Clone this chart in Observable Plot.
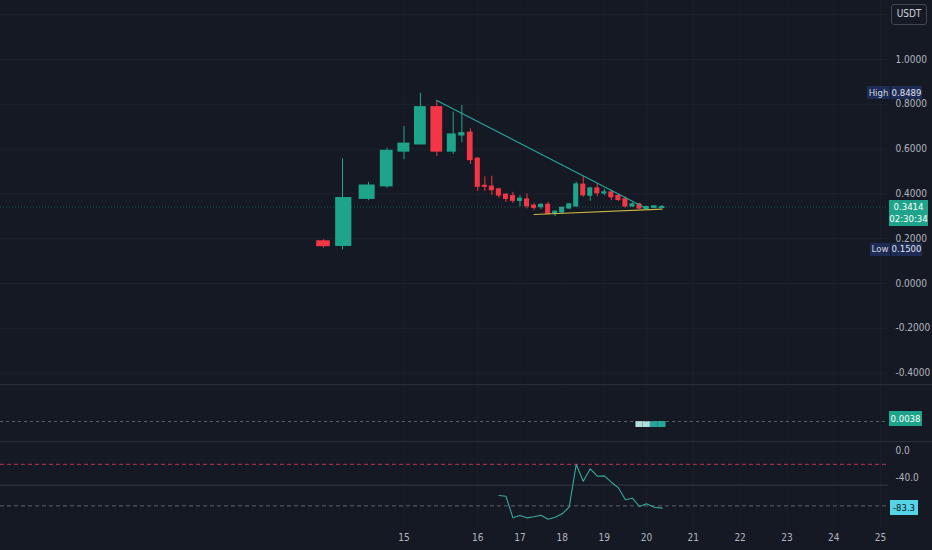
<!DOCTYPE html>
<html><head><meta charset="utf-8">
<script src="https://cdn.jsdelivr.net/npm/d3@7"></script>
<script src="https://cdn.jsdelivr.net/npm/@observablehq/plot@0.6"></script>
<style>
html,body{margin:0;padding:0;background:#151924;}
#chart{position:relative;width:932px;height:550px;background:#151924;overflow:hidden;font-family:"Liberation Sans Narrow","DejaVu Sans Condensed",Roboto,sans-serif;}
.pane{position:absolute;left:0;width:932px;}
.pane svg{display:block;}
.sep{position:absolute;left:0;width:932px;height:1px;background:#2a2e39;}
.tag{position:absolute;font-size:9.5px;white-space:nowrap;box-sizing:border-box;display:flex;align-items:center;justify-content:center;flex-direction:column;line-height:12px;}
</style></head><body><div id="chart"></div><script>
// ---- data (4h candles, day-of-month + time) ----
const barTimes = [
 "14 08:00","14 12:00","14 16:00","14 20:00",
 "15 00:00","15 04:00","15 08:00","15 12:00","15 16:00","15 20:00",
 "16 00:00","16 04:00","16 08:00","16 12:00","16 16:00","16 20:00",
 "17 00:00","17 04:00","17 08:00","17 12:00","17 16:00","17 20:00",
 "18 00:00","18 04:00","18 08:00","18 12:00","18 16:00","18 20:00",
 "19 00:00","19 04:00","19 08:00","19 12:00","19 16:00","19 20:00",
 "20 00:00","20 04:00","20 08:00"];
const open = [0.188,0.168,0.378,0.434,0.589,0.621,0.787,0.589,0.661,0.673,
 0.557,0.436,0.432,0.420,0.396,0.390,0.369,0.375,0.347,0.341,
 0.351,0.311,0.317,0.335,0.344,0.441,0.392,0.424,0.402,0.406,
 0.391,0.376,0.344,0.353,0.332,0.338,0.337];
const high = [0.195,0.557,0.452,0.604,0.701,0.8489,0.817,0.765,0.795,0.690,
 0.562,0.476,0.479,0.425,0.401,0.407,0.392,0.401,0.357,0.355,
 0.362,0.325,0.340,0.357,0.452,0.478,0.430,0.446,0.421,0.417,
 0.398,0.386,0.360,0.358,0.345,0.347,0.348];
const low = [0.158,0.150,0.370,0.425,0.553,0.619,0.568,0.576,0.628,0.531,
 0.411,0.411,0.393,0.381,0.362,0.357,0.342,0.333,0.326,0.330,
 0.306,0.299,0.312,0.330,0.340,0.385,0.367,0.388,0.391,0.370,
 0.366,0.337,0.340,0.330,0.328,0.335,0.336];
const close = [0.167,0.381,0.437,0.592,0.624,0.787,0.589,0.665,0.671,0.551,
 0.432,0.432,0.417,0.393,0.378,0.369,0.378,0.345,0.338,0.351,
 0.311,0.320,0.338,0.353,0.442,0.394,0.424,0.403,0.407,0.385,
 0.373,0.344,0.353,0.335,0.341,0.344,0.3414];
// Williams %R style oscillator (lower pane)
const wpr = [null,null,null,null,null,null,null,null,null,null,null,null,null,
 -65.0,-66.0,-97.3,-93.9,-97.3,-95.8,-93.5,-99.3,-96.4,-91.5,-81.9,
 -20.2,-44.4,-26.4,-37.1,-36.6,-45.8,-53.9,-71.2,-68.9,-80.9,-77.0,-81.9,-83.3];
// small histogram (middle pane)
const hist = [null,null,null,null,null,null,null,null,null,null,null,null,null,
 null,null,null,null,null,null,null,null,null,null,null,null,null,null,null,
 null,null,null,null,null,0.0037,0.0036,0.0037,0.0038];
// drawings
const trendTimes = ["15 08:00","20 00:00"], trendPrices = [0.817,0.335];
const supportTimes = ["17 08:00","20 08:00"], supportPrices = [0.308,0.332];
// ticks / labels
const dayTicks = [15,16,17,18,19,20,21,22,23,24,25];
const gridPrices = [1.2,1.0,0.8,0.6,0.4,0.2,0.0,-0.2,-0.4];
const axisPrices = [1.0,0.8,0.6,0.4,0.2,0.0,-0.2,-0.4];
const wprTicks = [0,-40];
const wprLevels = {upper:-20, mid:-50, lower:-80};
const highValue = 0.8489, lowValue = 0.15, lastPrice = 0.3414, countdown = "02:30:34";
const quote = "USDT";

// ---- build ----
const parseT = s => { const [d, hm] = s.split(" "); const [h, m] = hm.split(":").map(Number); return +d + (h + m/60)/24; };
const bars = barTimes.map((s,i)=>({t:parseT(s), o:open[i], h:high[i], l:low[i], c:close[i], up:close[i]>=open[i], w:wpr[i], v:hist[i], pv: i>0 ? hist[i-1] : null}));
const trend = trendTimes.map((s,i)=>({t:parseT(s), p:trendPrices[i]}));
const support = supportTimes.map((s,i)=>({t:parseT(s), p:supportPrices[i]}));

const UP="#1ea48a", DOWN="#f23645", TEXT="#b2b5be", GRID="#1e222d", VGRID="#1a1e29";
const FONT = '"Liberation Sans Narrow","DejaVu Sans Condensed",Roboto,sans-serif';
const xScale = {type:"linear", domain:[14+8/24,14.5,14+16/24,14+20/24,15,15.5,15+20/24,16,20,25], range:[323,342,368,386.5,403.5,452.7,470,477.3,646,880], axis:null};
const half = 0.36/6, full = 0.5/6;
const style = {background:"transparent", color:TEXT, fontFamily:FONT, fontSize:"10px", overflow:"visible"};

const chart = document.getElementById("chart");
function addPane(node, top){ const d=document.createElement("div"); d.className="pane"; d.style.top=top+"px"; d.appendChild(node); chart.appendChild(d); }
function addSep(top){ const d=document.createElement("div"); d.className="sep"; d.style.top=top+"px"; chart.appendChild(d); }
function tag(text, left, centerY, w, h, bg, color, extra){
  const d=document.createElement("div"); d.className="tag";
  d.style.left=left+"px"; d.style.top=(centerY-h/2)+"px"; d.style.width=w+"px"; d.style.height=h+"px";
  d.style.background=bg; d.style.color=color;
  if (Array.isArray(text)) text.forEach(t=>{const s=document.createElement("span"); s.textContent=t; d.appendChild(s);});
  else d.textContent=text;
  if (extra) Object.assign(d.style, extra);
  chart.appendChild(d); return d;
}

// Pane 1: price
const p1 = Plot.plot({
  width:932, height:384, marginLeft:0, marginRight:44, marginTop:0, marginBottom:0,
  style, x:xScale, y:{domain:[-0.451,1.2634]}, color:{type:"identity"},
  marks:[
    Plot.ruleX(dayTicks, {stroke:VGRID}),
    Plot.ruleY(gridPrices, {stroke:GRID}),
    Plot.ruleY([lastPrice], {stroke:UP, strokeOpacity:0.45, strokeDasharray:"1,2"}),
    Plot.ruleX(bars, {x:"t", y1:"l", y2:"h", stroke:d=>d.up?UP:DOWN}),
    Plot.rect(bars, {x1:d=>d.t-half, x2:d=>d.t+half, y1:d=>Math.min(d.o,d.c), y2:d=>Math.max(d.o,d.c), fill:d=>d.up?UP:DOWN, insetTop:-0.6, insetBottom:-0.6}),
    Plot.line(trend, {x:"t", y:"p", stroke:"#26a69a", strokeWidth:1.2}),
    Plot.line(support, {x:"t", y:"p", stroke:"#c9b640", strokeWidth:1.2}),
    Plot.axisY(axisPrices, {anchor:"right", tickSize:0, tickPadding:7, tickFormat:d=>d.toFixed(4), fill:TEXT, fontSize:10, label:null})
  ]
});
addPane(p1, 0);
addSep(384);
const y1 = p1.scale("y");

// Pane 2: histogram
const p2 = Plot.plot({
  width:932, height:56, marginLeft:0, marginRight:44, marginTop:0, marginBottom:0,
  style, x:xScale, y:{domain:[-0.00887,0.0266], axis:null}, color:{type:"identity"},
  marks:[
    Plot.ruleX(dayTicks, {stroke:VGRID}),
    Plot.ruleY([hist[hist.length-1]], {stroke:"#5d606b", strokeDasharray:"3,3"}),
    Plot.rect(bars.filter(d=>d.v!=null), {x1:d=>d.t-full, x2:d=>d.t+full, y1:0, y2:"v",
      fill:d=>(d.pv!=null && d.v>d.pv) ? "#26a69a" : "#b2dfdb"})
  ]
});
addPane(p2, 385);
addSep(441);
const y2 = p2.scale("y");

// Pane 3: oscillator
const p3 = Plot.plot({
  width:932, height:108, marginLeft:0, marginRight:44, marginTop:0, marginBottom:22,
  style, x:xScale, y:{domain:[-112.7,11.56]}, color:{type:"identity"},
  marks:[
    Plot.ruleX(dayTicks, {stroke:VGRID}),
    Plot.ruleY([wprLevels.upper], {stroke:"#b8344f", strokeDasharray:"4,3"}),
    Plot.ruleY([wprLevels.mid], {stroke:"#363a45"}),
    Plot.ruleY([wprLevels.lower], {stroke:"#5d606b", strokeDasharray:"4,3"}),
    Plot.line(bars.filter(d=>d.w!=null), {x:"t", y:"w", stroke:"#3aa99c", strokeWidth:1.1}),
    Plot.axisY(wprTicks, {anchor:"right", tickSize:0, tickPadding:7, tickFormat:d=>d.toFixed(1), fill:TEXT, fontSize:10, label:null}),
    Plot.axisX(dayTicks, {anchor:"bottom", tickSize:0, tickPadding:5, tickFormat:d=>String(d), fill:TEXT, fontSize:10, label:null})
  ]
});
addPane(p3, 442);
const y3 = p3.scale("y");

// Tags
tag(quote, 891, 14, 36, 21, "#151924", "#d1d4dc", {border:"1px solid #434651", borderRadius:"3px", fontSize:"10px"});
tag("High", 867, y1.apply(highValue), 23, 13, "#1d2b55", "#d1d4dc");
tag(highValue.toFixed(4), 890, y1.apply(highValue), 32, 13, "#1d2b55", "#e0e3eb", {borderLeft:"1px solid #151924"});
tag("Low", 870, y1.apply(lowValue), 20, 13, "#1d2b55", "#d1d4dc");
tag(lowValue.toFixed(4), 890, y1.apply(lowValue), 32, 13, "#1d2b55", "#e0e3eb", {borderLeft:"1px solid #151924"});
tag([lastPrice.toFixed(4), countdown], 889, y1.apply(lastPrice)+6, 39, 26, UP, "#ffffff");
tag(hist[hist.length-1].toFixed(4), 889, 385 + y2.apply(hist[hist.length-1]) - 2, 33, 15, UP, "#ffffff");
tag(wpr[wpr.length-1].toFixed(1), 890, 442 + y3.apply(wpr[wpr.length-1]), 28, 15, "#56d3e6", "#131722");
</script></body></html>
